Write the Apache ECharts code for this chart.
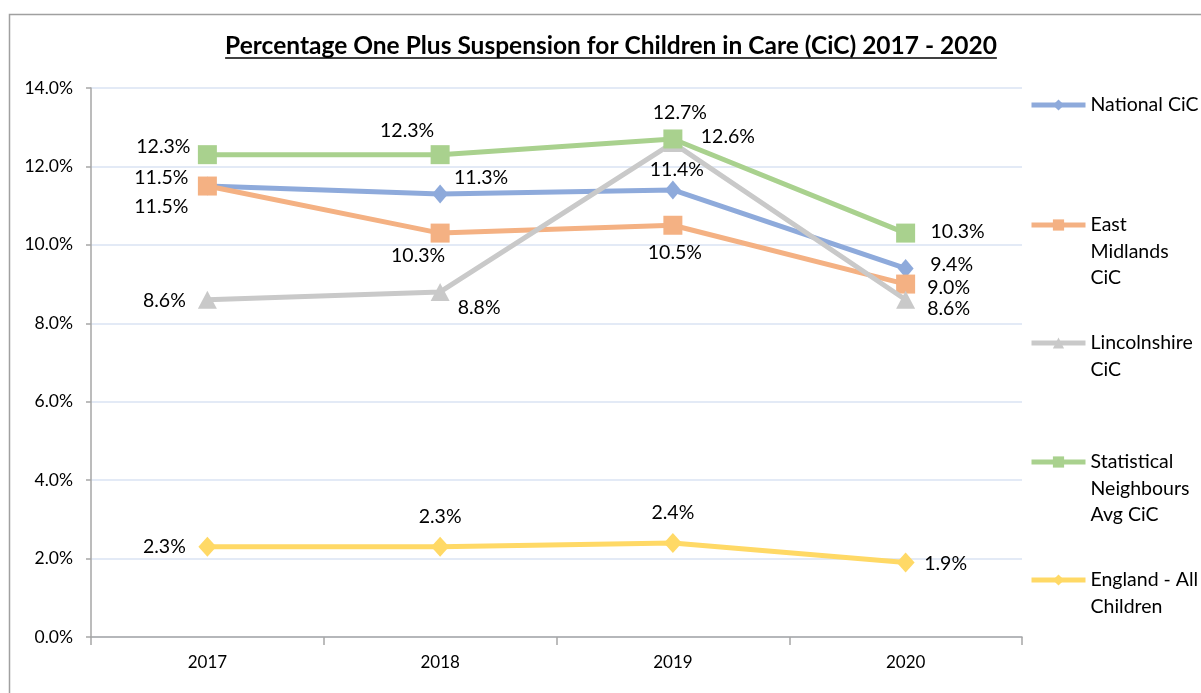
<!DOCTYPE html>
<html>
<head>
<meta charset="utf-8">
<script src="https://cdn.jsdelivr.net/npm/echarts@6/dist/echarts.min.js"></script>
<style>
  html, body { margin: 0; padding: 0; background: #fff; }
  #chart { width: 1201px; height: 693px; }
</style>
</head>
<body>
<div id="chart"></div>
<script>
// Years on the category axis
const years = ['2017', '2018', '2019', '2020'];

// Percentage of children with one or more suspensions
const nationalCiC = [11.5, 11.3, 11.4, 9.4];
const eastMidlandsCiC = [11.5, 10.3, 10.5, 9.0];
const lincolnshireCiC = [8.6, 8.8, 12.6, 8.6];
const statNeighboursCiC = [12.3, 12.3, 12.7, 10.3];
const englandAll = [2.3, 2.3, 2.4, 1.9];

// Series names and how they wrap in the legend
const seriesNames = ['National CiC', 'East Midlands CiC', 'Lincolnshire CiC',
  'Statistical Neighbours Avg CiC', 'England - All Children'];
const legendLines = [
  ['National CiC'],
  ['East', 'Midlands', 'CiC'],
  ['Lincolnshire', 'CiC'],
  ['Statistical', 'Neighbours', 'Avg CiC'],
  ['England - All', 'Children']
];

// Y axis tick values
const yTicks = [0, 2, 4, 6, 8, 10, 12, 14];

const FONT = 'Lato, "Open Sans", sans-serif';
const colors = ['#8eaadb', '#f4b183', '#c9c9c9', '#a9d18e', '#ffd966'];
const symbols = ['diamond', 'rect', 'triangle', 'rect', 'diamond'];
const symbolSizes = [[16, 19], [19, 19], [19, 18], [19, 19], [18, 20]];

// Label centre offsets from each point, in pixels
const labelOffsets = [
  [[-46, -8], [41, -16], [4, -20], [46, -4]],
  [[-46, 21], [-22, 23], [2, 27], [43, 4]],
  [[-43, 1], [39, 16], [55, -6], [43, 9]],
  [[-44, -8], [-33, -24], [7, -26], [52, -1]],
  [[-43, 0], [0, -30], [0, -30], [40, 1]]
];

const allValues = [nationalCiC, eastMidlandsCiC, lincolnshireCiC, statNeighboursCiC, englandAll];

const series = allValues.map((vals, si) => ({
  name: seriesNames[si],
  type: 'line',
  z: 2 + si,
  data: vals.map((v, i) => ({
    value: v,
    label: { offset: labelOffsets[si][i] }
  })),
  symbol: symbols[si],
  symbolSize: symbolSizes[si],
  showAllSymbol: true,
  lineStyle: { color: colors[si], width: 5 },
  itemStyle: { color: colors[si] },
  label: {
    show: true,
    position: 'inside',
    align: 'center',
    verticalAlign: 'middle',
    color: '#000',
    fontFamily: FONT,
    fontSize: 19.5,
    formatter: p => p.value.toFixed(1) + '%'
  },
  emphasis: { disabled: true },
  animation: false
}));

// One legend block per series so each sits at its own height
const legendCentres = [105, 225, 343, 462, 580];
const LINE_H = 26.5;
const legends = legendLines.map((lines, i) => {
  const n = lines.length;
  const blank = new Array(n - 1).fill('').join('\n');
  const text = (n > 1 ? blank + '\n' : '') + lines.join('\n');
  return {
    data: [seriesNames[i]],
    left: 1029,
    top: legendCentres[i] - (2 * n - 1) * LINE_H / 2,
    padding: 0,
    itemWidth: 54,
    itemHeight: 14,
    itemGap: 0,
    selectedMode: false,
    formatter: () => text,
    lineStyle: { width: 5 },
    textStyle: { fontFamily: FONT, fontSize: 19.5, color: '#000', lineHeight: LINE_H }
  };
});

const titleText = 'Percentage One Plus Suspension for Children in Care (CiC) 2017 - 2020';
const TITLE_SIZE = 24.5;
const titleCentreX = 611;
const titleY = 34;

// Width of the title, for the underline beneath it
const ctx = document.createElement('canvas').getContext('2d');
ctx.font = 'bold ' + TITLE_SIZE + 'px ' + FONT;
const titleW = ctx.measureText(titleText).width;

const chart = echarts.init(document.getElementById('chart'), null, { renderer: 'canvas' });
chart.setOption({
  backgroundColor: '#fff',
  animation: false,
  title: {
    text: titleText,
    left: titleCentreX,
    top: titleY,
    textAlign: 'center',
    padding: 0,
    textStyle: { fontFamily: FONT, fontSize: TITLE_SIZE, fontWeight: 'bold', color: '#000' }
  },
  legend: legends,
  grid: { left: 91, right: 179, top: 88, bottom: 56, containLabel: false },
  xAxis: {
    type: 'category',
    data: years,
    boundaryGap: true,
    axisLine: { lineStyle: { color: '#a6a6a6', width: 1.5 } },
    axisTick: { show: true, length: 8, lineStyle: { color: '#a6a6a6', width: 1.5 } },
    axisLabel: { color: '#000', fontFamily: FONT, fontSize: 17, margin: 17 },
    splitLine: { show: false }
  },
  yAxis: {
    type: 'value',
    min: yTicks[0],
    max: yTicks[yTicks.length - 1],
    interval: yTicks[1] - yTicks[0],
    axisLine: { show: true, lineStyle: { color: '#a6a6a6', width: 1.5 } },
    axisTick: { show: true, length: 5, lineStyle: { color: '#a6a6a6', width: 1.5 } },
    axisLabel: {
      color: '#000', fontFamily: FONT, fontSize: 17.5, margin: 18,
      formatter: v => v.toFixed(1) + '%'
    },
    splitLine: { lineStyle: { color: '#dae3f3', width: 1.5 } }
  },
  graphic: [
    {
      type: 'rect',
      left: 7, top: 12,
      shape: { width: 1400, height: 900 },
      style: { fill: 'none', stroke: '#a0a0a0', lineWidth: 1.5 },
      silent: true, z: -1
    },
    {
      type: 'line',
      shape: { x1: titleCentreX - titleW / 2, y1: titleY + 24, x2: titleCentreX + titleW / 2, y2: titleY + 24 },
      style: { stroke: '#000', lineWidth: 1.5 },
      silent: true
    }
  ],
  series: series
});
</script>
</body>
</html>
